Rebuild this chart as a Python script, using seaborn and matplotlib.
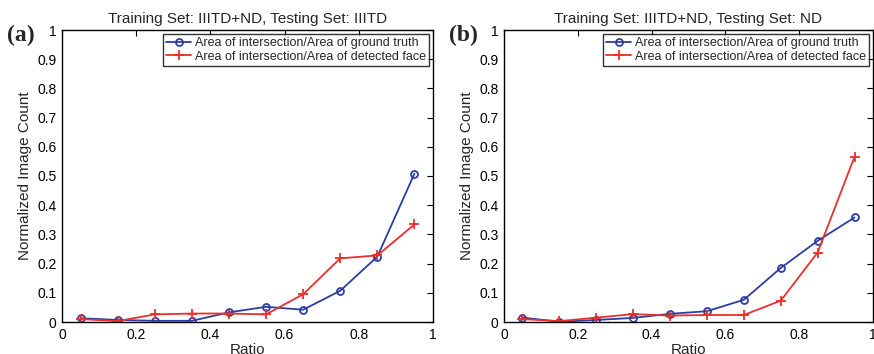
import numpy as np
import pandas as pd
import matplotlib
matplotlib.use("Agg")
import matplotlib.pyplot as plt
import seaborn as sns

sns.set_style("white")
plt.rcParams['font.family'] = ['Liberation Sans', 'DejaVu Sans']

ratio = [0.05, 0.15, 0.25, 0.35, 0.45, 0.55, 0.65, 0.75, 0.85, 0.95]

# panel (a): testing set IIITD
a_ground = [0.013, 0.007, 0.004, 0.004, 0.033, 0.052, 0.042, 0.107, 0.224, 0.508]
a_detect = [0.010, 0.003, 0.026, 0.029, 0.029, 0.026, 0.095, 0.218, 0.228, 0.334]
# panel (b): testing set ND
b_ground = [0.015, 0.001, 0.007, 0.014, 0.028, 0.037, 0.076, 0.185, 0.278, 0.358]
b_detect = [0.010, 0.003, 0.015, 0.027, 0.022, 0.024, 0.024, 0.073, 0.238, 0.566]

lbl_ground = "Area of intersection/Area of ground truth"
lbl_detect = "Area of intersection/Area of detected face"
titles = ["Training Set: IIITD+ND, Testing Set: IIITD",
          "Training Set: IIITD+ND, Testing Set: ND"]
panels = ["(a)", "(b)"]

blue = "#2b3fa3"
red = "#e8302a"

fig = plt.figure(figsize=(8.74, 3.54), dpi=100)
ax_a = fig.add_axes([62/874, 1-322/354, 371/874, 292/354])
ax_b = fig.add_axes([504/874, 1-322/354, 369/874, 292/354])

for ax, g, d, t, p in [(ax_a, a_ground, a_detect, titles[0], panels[0]),
                       (ax_b, b_ground, b_detect, titles[1], panels[1])]:
    sns.lineplot(x=ratio, y=g, ax=ax, color=blue, marker="o",
                 markersize=5, markerfacecolor="none", markeredgecolor=blue,
                 markeredgewidth=1.3, linewidth=1.3, label=lbl_ground)
    sns.lineplot(x=ratio, y=d, ax=ax, color=red, marker="+",
                 markersize=7, markeredgecolor=red, markeredgewidth=1.3,
                 linewidth=1.3, label=lbl_detect)
    ax.set_xlim(0, 1)
    ax.set_ylim(0, 1)
    ax.set_xticks(np.arange(0, 1.01, 0.2))
    ax.set_xticklabels(["0", "0.2", "0.4", "0.6", "0.8", "1"])
    ax.set_yticks(np.arange(0, 1.01, 0.1))
    ax.set_yticklabels(["0"] + [f"{v:.1f}" for v in np.arange(0.1, 0.95, 0.1)] + ["1"])
    ax.tick_params(direction="in", top=True, right=True, length=4, width=0.8,
                   labelsize=10, pad=4, colors="black")
    for s in ax.spines.values():
        s.set_color("black")
        s.set_linewidth(1.0)
    ax.set_xlabel("Ratio", fontsize=11, labelpad=1)
    ax.set_ylabel("Normalized Image Count", fontsize=11, labelpad=4)
    ax.set_title(t, fontsize=11, pad=5)
    leg = ax.legend(loc="upper right", fontsize=9, frameon=True, fancybox=False,
                    borderpad=0.25, labelspacing=0.15, handlelength=2.0,
                    handletextpad=0.3, borderaxespad=0.3)
    leg.get_frame().set_edgecolor("black")
    leg.get_frame().set_linewidth(1.0)
    ax.text(-0.11, 0.983, p, transform=ax.transAxes, fontsize=17,
            fontweight="bold", family="Liberation Serif", ha="center", va="center")

fig.savefig("out.png", dpi=100)
